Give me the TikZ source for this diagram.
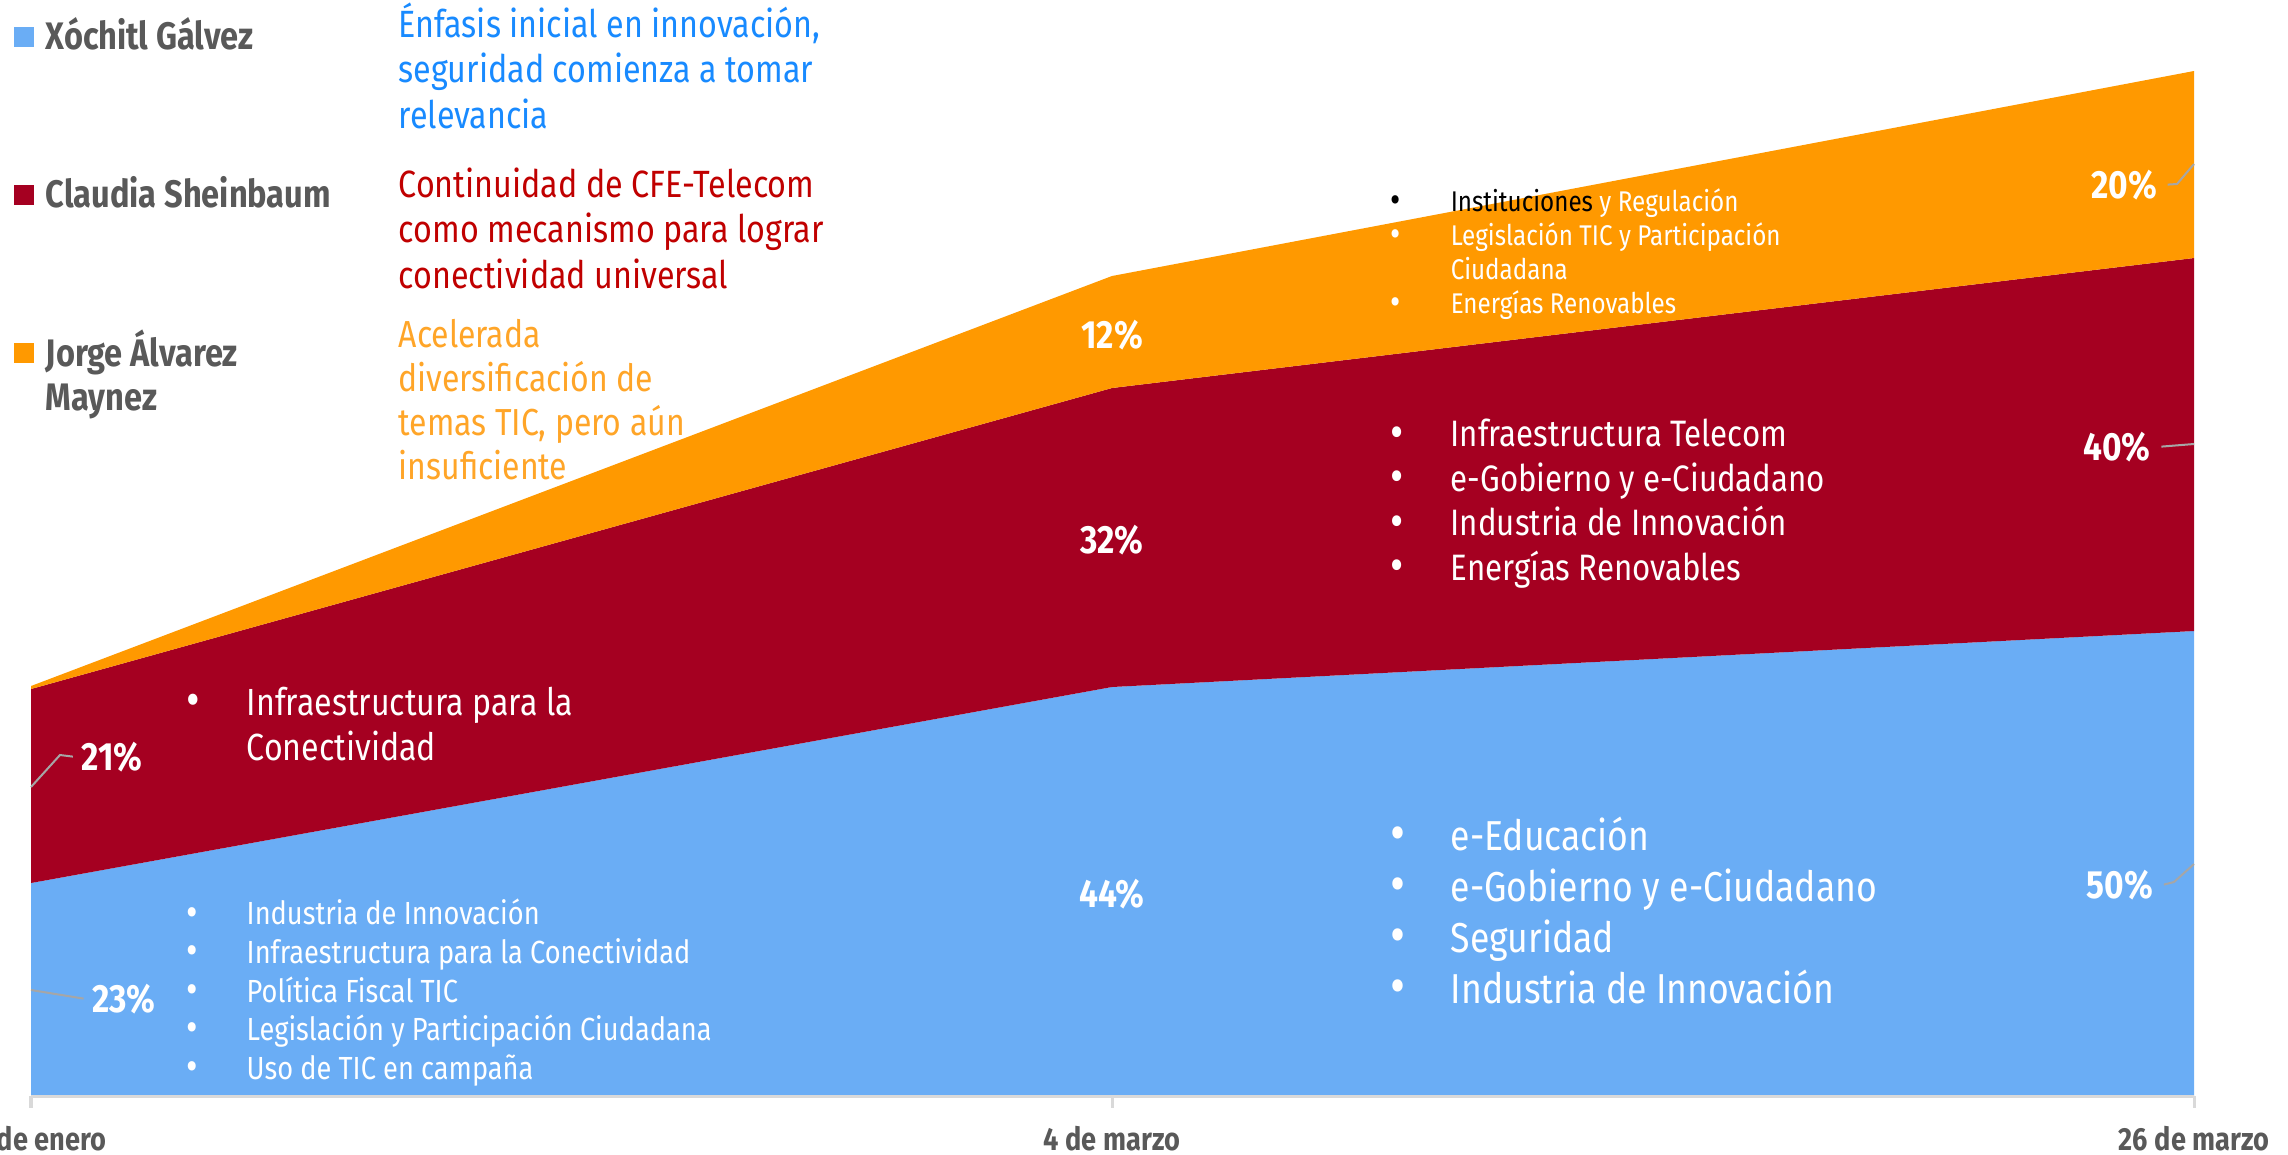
\documentclass[tikz,border=0pt]{standalone}
\usepackage{fontspec}
\setmainfont{Fira Sans}[FakeStretch=0.85]
\usepackage{xcolor}
\usepackage{tikz}
\usetikzlibrary{positioning}

\definecolor{areablue}{RGB}{106,173,245}
\definecolor{areared}{RGB}{165,0,33}
\definecolor{areaorange}{RGB}{255,153,0}
\definecolor{txtblue}{RGB}{24,138,255}
\definecolor{txtred}{RGB}{192,0,0}
\definecolor{txtorange}{RGB}{255,165,40}
\definecolor{txtgrey}{RGB}{89,89,89}
\definecolor{leadgrey}{RGB}{166,166,166}
\definecolor{axisgrey}{RGB}{217,217,217}

\newcommand{\bul}{\makebox[0.60cm][l]{\raisebox{-0.08ex}{\scalebox{1.3}{\textbullet}}}}
\newcommand{\nobul}{\makebox[0.60cm]{}}

\begin{document}
\begin{tikzpicture}[x=0.01cm, y=-0.01cm, inner sep=0pt, node distance=0.11cm]
    % Define styles (multi-line nodes sit on the baseline of their last line)
    \tikzstyle{legsq} = [rectangle, minimum size=0.2cm]
    \tikzstyle{legname} = [anchor=base west, text=txtgrey, font=\fontsize{10.9}{12.5}\selectfont\bfseries, align=left]
    \tikzstyle{desc} = [anchor=base west, font=\fontsize{10.8}{12.8}\selectfont, align=left]
    \tikzstyle{items} = [anchor=base west, text=white, align=left]
    \tikzstyle{pct} = [anchor=base, text=white, font=\fontsize{11.2}{12}\selectfont\bfseries]
    \tikzstyle{datelbl} = [anchor=base, text=txtgrey, font=\fontsize{9.1}{11}\selectfont\bfseries]
    \tikzstyle{leader} = [draw=leadgrey, line width=0.02cm]
    \tikzstyle{axis} = [draw=axisgrey, line width=0.03cm]

    \useasboundingbox (0,0) rectangle (2288,1154);

    % Stacked areas
    \fill[areablue] (31,1096) -- (31,883) -- (1112,687) -- (2194,631) -- (2194,1096) -- cycle;
    \fill[areared] (31,883) -- (31,689) -- (1112,388) -- (2194,258) -- (2194,631) -- (1112,687) -- cycle;
    \fill[areaorange] (31,689) -- (31,686) -- (1112,276) -- (2194,71) -- (2194,258) -- (1112,388) -- cycle;

    % Axis and ticks
    \coordinate (t1) at (31,1096);
    \coordinate (t2) at (1112,1096);
    \coordinate (t3) at (2194,1096);
    \draw[axis] (t1) -- (t3);
    \foreach \t in {t1,t2,t3}
        \draw[axis] (\t) -- ++(0,12);
    \node[datelbl, anchor=base east] (d1) at (107,1150) {de enero};
    \node[datelbl] (d2) at (1112,1150) {4 de marzo};
    \node[datelbl] (d3) at (2194,1150) {26 de marzo};

    % Legend
    \node[legsq, fill=areablue] (sqx) at (24,37) {};
    \node[legname] (nx) at (45,49) {Xóchitl Gálvez};
    \node[legsq, fill=areared] (sqc) at (24,195) {};
    \node[legname] (nc) at (45,207) {Claudia Sheinbaum};
    \node[legsq, fill=areaorange] (sqj) at (24,353) {};
    \node[legname] (nj) at (45,410) {Jorge Álvarez\\Maynez};

    % Descriptions
    \node[desc, text=txtblue] (dx) at (398,128) {Énfasis inicial en innovación,\\seguridad comienza a tomar\\relevancia};
    \node[desc, text=txtred] (dc) at (398,288) {Continuidad de CFE-Telecom\\como mecanismo para lograr\\conectividad universal};
    \node[desc, text=txtorange, font=\fontsize{10.7}{12.5}\selectfont] (dj) at (398,479) {Acelerada\\diversificación de\\temas TIC, pero aún\\insuficiente};

    % Topics per candidate
    \node[items, font=\fontsize{10.75}{12.8}\selectfont] (lred) at (186,760)
        {\bul Infraestructura para la\\\nobul Conectividad};
    \node[items, font=\fontsize{9.1}{10.95}\selectfont] (lblue) at (186,1079)
        {\bul Industria de Innovación\\\bul Infraestructura para la Conectividad\\\bul Política Fiscal TIC\\\bul Legislación y Participación Ciudadana\\\bul Uso de TIC en campaña};
    \node[items, font=\fontsize{8.1}{9.6}\selectfont] (rorange) at (1390,313)
        {\textcolor{black}{\bul Instituciones} y Regulación\\\bul Legislación TIC y Participación\\\nobul Ciudadana\\\bul Energías Renovables};
    \node[items, font=\fontsize{10.45}{12.65}\selectfont] (rred) at (1390,580)
        {\bul Infraestructura Telecom\\\bul e-Gobierno y e-Ciudadano\\\bul Industria de Innovación\\\bul Energías Renovables};
    \node[items, font=\fontsize{11.9}{14.5}\selectfont] (rblue) at (1390,1003)
        {\bul e-Educación\\\bul e-Gobierno y e-Ciudadano\\\bul Seguridad\\\bul Industria de Innovación};

    % Percentages
    \node[pct] (p21) at (112,770) {21\%};
    \node[pct] (p23) at (124,1012) {23\%};
    \node[pct] (p44) at (1112,907) {44\%};
    \node[pct] (p32) at (1112,553) {32\%};
    \node[pct] (p12) at (1112,348) {12\%};
    \node[pct] (p50) at (2120,898) {50\%};
    \node[pct] (p40) at (2117,460) {40\%};
    \node[pct] (p20) at (2124,198) {20\%};

    % Leaders
    \coordinate (e21) at (31,787);
    \coordinate (e23) at (31,990);
    \coordinate (e50) at (2194,864);
    \coordinate (e40) at (2194,444);
    \coordinate (e20) at (2194,164);
    \draw[leader] (e21) -- (60,755) -- ([xshift=-0.08cm]p21.west);
    \draw[leader] (e23) -- ([xshift=-0.08cm]p23.west);
    \draw[leader] (e50) -- (2174,882) -- ([xshift=0.1cm]p50.east);
    \draw[leader] (e40) -- ([xshift=0.1cm]p40.east);
    \draw[leader] (e20) -- (2177,184) -- ([xshift=0.1cm]p20.east);
\end{tikzpicture}
\end{document}
